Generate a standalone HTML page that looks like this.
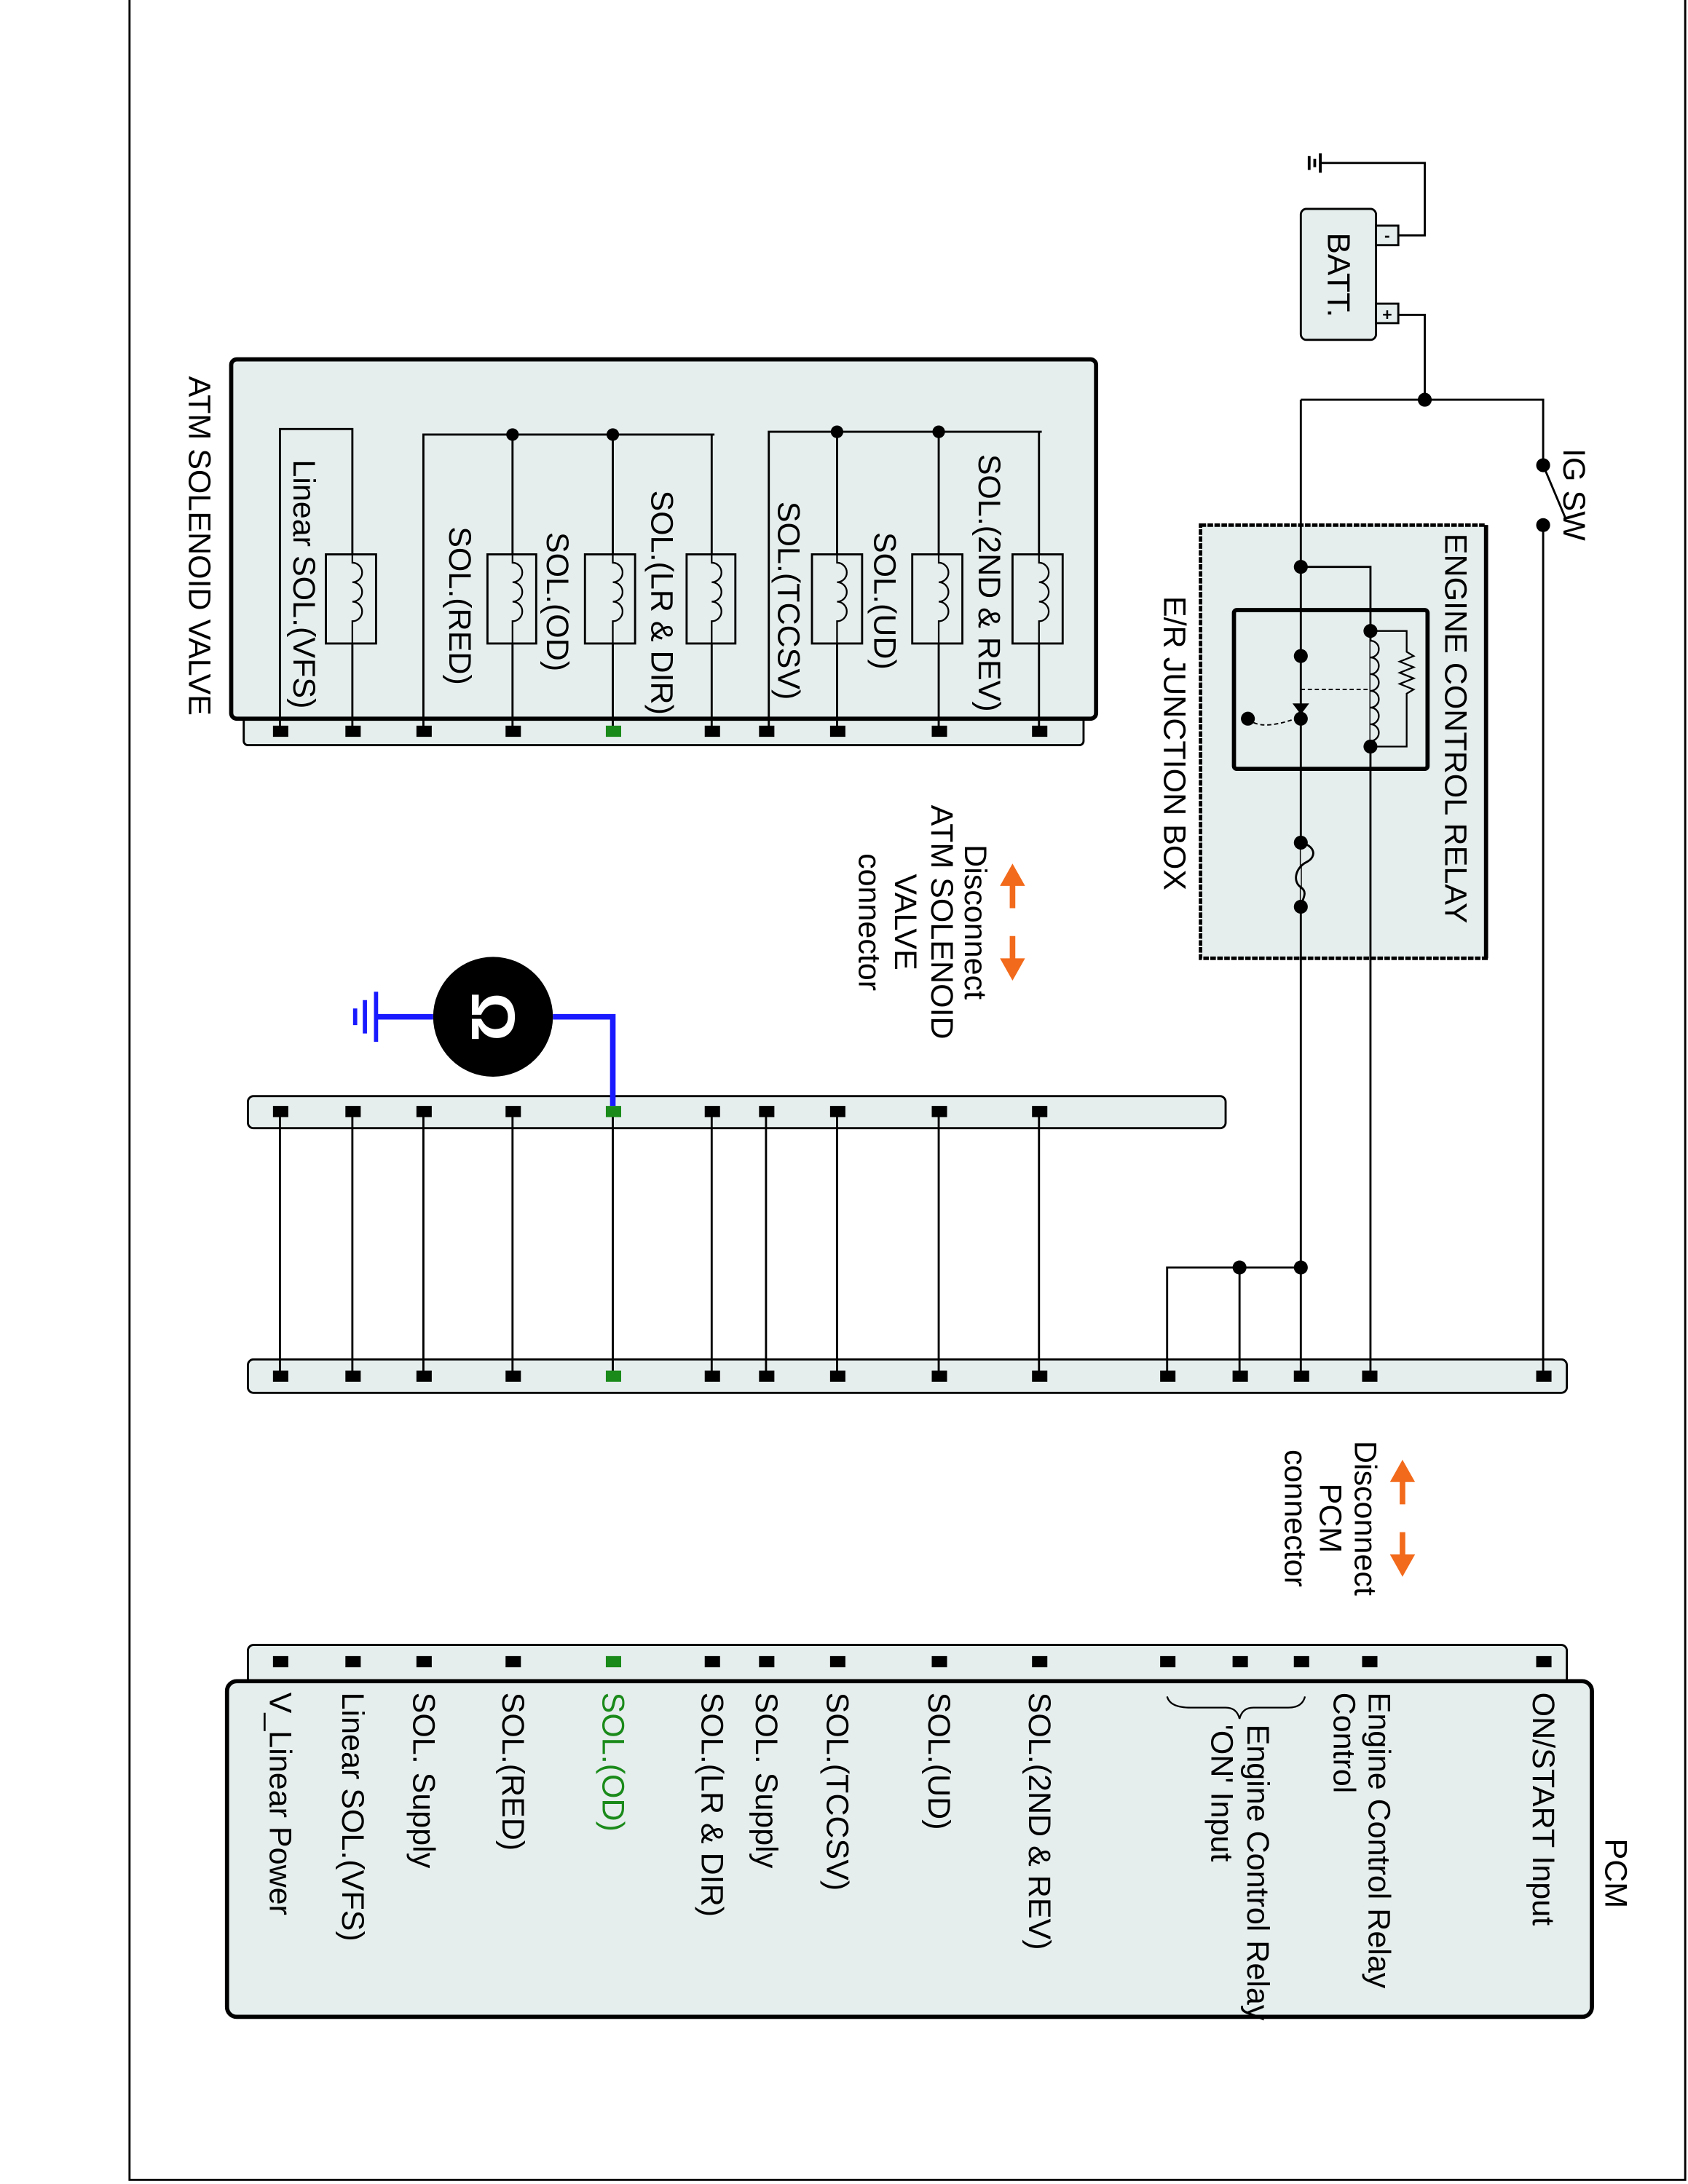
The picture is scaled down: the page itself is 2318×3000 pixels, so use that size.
<!DOCTYPE html>
<html><head><meta charset="utf-8"><style>html,body{margin:0;padding:0;background:#fff}svg{display:block}</style></head><body>
<svg width="2318" height="3000" viewBox="0 0 1212 1568" preserveAspectRatio="none" xmlns="http://www.w3.org/2000/svg" font-family="Liberation Sans, sans-serif">
<rect x="0" y="0" width="1212" height="1568" fill="#fff"/>
<path d="M93 0 V1565 H1210 V0" fill="none" stroke="#000" stroke-width="1.5"/>
<g stroke="#000" stroke-width="1.5" fill="none">
<rect x="175" y="514" width="603" height="21" rx="3" fill="#e6eded"/>
<rect x="166" y="258" width="621" height="258" rx="4" fill="#e6eded" stroke-width="3"/>
<rect x="178" y="787" width="702" height="23" rx="4" fill="#e6eded"/>
<rect x="178" y="976" width="947" height="24" rx="4" fill="#e6eded"/>
<rect x="178" y="1181" width="947" height="28" rx="4" fill="#e6eded"/>
<rect x="163" y="1207" width="980" height="241" rx="7" fill="#e6eded" stroke-width="3"/>
<rect x="862" y="377" width="205" height="311" fill="#e6eded" stroke-width="2.5" stroke-dasharray="4 1"/>
<path d="M1067 377 V688" stroke-width="3"/>
<path d="M201 525 V308 H253 V525"/>
<path d="M304 525 V312 H513 M368 312 V525 M440 312 V525 M511 312 V525"/>
<path d="M552 525 V310 H748 M601 310 V525 M674 310 V525 M746 310 V525"/>
<g fill="#e6eded">
<rect x="234" y="398" width="36" height="64"/>
<rect x="350" y="398" width="35" height="64"/><rect x="420" y="398" width="36" height="64"/><rect x="493" y="398" width="35" height="64"/>
<rect x="583" y="398" width="36" height="64"/><rect x="655" y="398" width="36" height="64"/><rect x="727" y="398" width="36" height="64"/>
</g>
<g stroke-width="1.2">
<path d="M253 398 V404 a5 5 0 0 1 0 14 a5 5 0 0 1 0 14 a5 5 0 0 1 0 14 V462"/>
<path d="M368 398 V404 a5 5 0 0 1 0 14 a5 5 0 0 1 0 14 a5 5 0 0 1 0 14 V462"/>
<path d="M440 398 V404 a5 5 0 0 1 0 14 a5 5 0 0 1 0 14 a5 5 0 0 1 0 14 V462"/>
<path d="M511 398 V404 a5 5 0 0 1 0 14 a5 5 0 0 1 0 14 a5 5 0 0 1 0 14 V462"/>
<path d="M601 398 V404 a5 5 0 0 1 0 14 a5 5 0 0 1 0 14 a5 5 0 0 1 0 14 V462"/>
<path d="M674 398 V404 a5 5 0 0 1 0 14 a5 5 0 0 1 0 14 a5 5 0 0 1 0 14 V462"/>
<path d="M746 398 V404 a5 5 0 0 1 0 14 a5 5 0 0 1 0 14 a5 5 0 0 1 0 14 V462"/>
</g>
<path d="M201 798 V988 M253 798 V988 M304 798 V988 M368 798 V988 M440 798 V988 M511 798 V988 M550 798 V988 M601 798 V988 M674 798 V988 M746 798 V988"/>
<path d="M948 117 H1023 V169 H1004 M1004 226 H1023 V287 M934 287 H1108 V334 M1108 377 V988 M1108 334 L1124 372"/>
<path d="M934 287 V988 M934 407 H984 V988 M838 988 V910 H934 M890 910 V988"/>
<path d="M940 112 V122 M944 114 V120 M948 110 V124" stroke-width="2"/>
<rect x="934" y="150" width="54" height="94" rx="4" fill="#e6eded"/>
<rect x="988" y="162" width="16" height="14" fill="#e6eded"/>
<rect x="988" y="218" width="16" height="14" fill="#e6eded"/>
<rect x="886" y="438" width="139" height="114" rx="2" stroke-width="3"/>
<path d="M984 453 H1010 V468 l5 3 -10 4 10 4 -10 4 10 4 -10 4 10 4 -5 3 V536 H984" stroke-width="1.2"/>
<path d="M984 460 a5 5 0 0 1 0 12 a5 5 0 0 1 0 12 a5 5 0 0 1 0 12 a5 5 0 0 1 0 12 a5 5 0 0 1 0 12 a5 5 0 0 1 0 12" fill="#e6eded" stroke-width="1.2"/>
<path d="M934 495 H984" stroke-dasharray="3 2" stroke-width="1"/>
<path d="M896 516 Q905 525 930 516" stroke-dasharray="3 2" stroke-width="1"/>
<path d="M934 605 c10 2 12 10 4 14 c-8 4 -10 14 -4 18 c6 4 0 10 0 14" stroke-width="1.5" fill="#e6eded"/>
</g>
<g fill="#000">
<circle cx="368" cy="312" r="4.5"/><circle cx="440" cy="312" r="4.5"/>
<circle cx="601" cy="310" r="4.5"/><circle cx="674" cy="310" r="4.5"/>
<circle cx="1023" cy="287" r="5"/><circle cx="1108" cy="334" r="5"/><circle cx="1108" cy="377" r="5"/>
<circle cx="934" cy="407" r="5"/><circle cx="984" cy="453" r="5"/><circle cx="984" cy="536" r="5"/>
<circle cx="934" cy="471" r="5"/><circle cx="934" cy="516" r="5"/><circle cx="896" cy="516" r="5"/>
<circle cx="934" cy="605" r="5"/><circle cx="934" cy="651" r="5"/>
<circle cx="890" cy="910" r="5"/><circle cx="934" cy="910" r="5"/>
<path d="M928 505 L940 505 L934 513 Z"/>
<text x="996" y="173" font-size="12" text-anchor="middle" font-weight="bold">-</text>
<text x="996" y="230" font-size="12" text-anchor="middle" font-weight="bold">+</text>
</g>
<g fill="#000">
<g id="p1">
<rect x="196" y="521" width="11" height="8"/><rect x="248" y="521" width="11" height="8"/><rect x="299" y="521" width="11" height="8"/><rect x="363" y="521" width="11" height="8"/><rect x="435" y="521" width="11" height="8" fill="#1a8a1a"/><rect x="506" y="521" width="11" height="8"/><rect x="545" y="521" width="11" height="8"/><rect x="596" y="521" width="11" height="8"/><rect x="669" y="521" width="11" height="8"/><rect x="741" y="521" width="11" height="8"/>
</g>
<use href="#p1" y="273"/><use href="#p1" y="463"/><use href="#p1" y="668"/>
<rect x="833" y="984" width="11" height="8"/><rect x="885" y="984" width="11" height="8"/><rect x="929" y="984" width="11" height="8"/><rect x="978" y="984" width="11" height="8"/><rect x="1103" y="984" width="11" height="8"/>
<rect x="833" y="1189" width="11" height="8"/><rect x="885" y="1189" width="11" height="8"/><rect x="929" y="1189" width="11" height="8"/><rect x="978" y="1189" width="11" height="8"/><rect x="1103" y="1189" width="11" height="8"/>
</g>
<g stroke="#1a1aff" stroke-width="4" fill="none">
<path d="M440 794 V730 H397 M311 730 H270"/>
<path d="M270 712 V748 M262 718 V742 M255 724 V736" stroke-width="3"/>
</g>
<circle cx="354" cy="730" r="43" fill="#000"/>
<text transform="translate(354,730) rotate(90)" font-size="44" font-weight="bold" fill="#fff" text-anchor="middle" dominant-baseline="central">Ω</text>
<g stroke="#f26a1b" stroke-width="4" fill="#f26a1b">
<path d="M727 632 V652 M727 672 V692"/>
<path d="M718 636 L727 620 L736 636 Z M718 688 L727 704 L736 688 Z" stroke="none"/>
<path d="M1007 1060 V1080 M1007 1100 V1120"/>
<path d="M998 1064 L1007 1048 L1016 1064 Z M998 1116 L1007 1132 L1016 1116 Z" stroke="none"/>
</g>
<path d="M838 1218 Q840 1226 855 1226 H880 Q888 1226 890 1234 Q892 1226 900 1226 H925 Q935 1226 937 1218" fill="none" stroke="#000" stroke-width="1.2"/>
<g font-size="22.5" fill="#000">
<text transform="translate(143,270) rotate(90)" dominant-baseline="central" font-size="22.5">ATM SOLENOID VALVE</text>
<text transform="translate(218,330) rotate(90)" dominant-baseline="central">Linear SOL.(VFS)</text>
<text transform="translate(330,378) rotate(90)" dominant-baseline="central">SOL.(RED)</text>
<text transform="translate(400,382) rotate(90)" dominant-baseline="central">SOL.(OD)</text>
<text transform="translate(475,352) rotate(90)" dominant-baseline="central">SOL.(LR &amp; DIR)</text>
<text transform="translate(566,360) rotate(90)" dominant-baseline="central">SOL.(TCCSV)</text>
<text transform="translate(635,382) rotate(90)" dominant-baseline="central">SOL.(UD)</text>
<text transform="translate(710,326) rotate(90)" dominant-baseline="central">SOL.(2ND &amp; REV)</text>
<text transform="translate(961,167) rotate(90)" dominant-baseline="central" font-size="23">BATT.</text>
<text transform="translate(1130,322) rotate(90)" dominant-baseline="central">IG SW</text>
<text transform="translate(1045,383) rotate(90)" dominant-baseline="central">ENGINE CONTROL RELAY</text>
<text transform="translate(843,428) rotate(90)" dominant-baseline="central">E/R JUNCTION BOX</text>
<g text-anchor="middle">
<text transform="translate(700,662) rotate(90)" dominant-baseline="central">Disconnect</text>
<text transform="translate(676,662) rotate(90)" dominant-baseline="central">ATM SOLENOID</text>
<text transform="translate(650,662) rotate(90)" dominant-baseline="central">VALVE</text>
<text transform="translate(624,662) rotate(90)" dominant-baseline="central">connector</text>
<text transform="translate(980,1090) rotate(90)" dominant-baseline="central">Disconnect</text>
<text transform="translate(955,1090) rotate(90)" dominant-baseline="central">PCM</text>
<text transform="translate(930,1090) rotate(90)" dominant-baseline="central">connector</text>
</g>
<text transform="translate(1160,1320) rotate(90)" dominant-baseline="central">PCM</text>
<text transform="translate(1108,1215) rotate(90)" dominant-baseline="central">ON/START Input</text>
<text transform="translate(990,1215) rotate(90)" dominant-baseline="central">Engine Control Relay</text>
<text transform="translate(965,1215) rotate(90)" dominant-baseline="central">Control</text>
<text transform="translate(903,1238) rotate(90)" dominant-baseline="central">Engine Control Relay</text>
<text transform="translate(877,1238) rotate(90)" dominant-baseline="central">'ON' Input</text>
<text transform="translate(746,1215) rotate(90)" dominant-baseline="central">SOL.(2ND &amp; REV)</text>
<text transform="translate(674,1215) rotate(90)" dominant-baseline="central">SOL.(UD)</text>
<text transform="translate(601,1215) rotate(90)" dominant-baseline="central">SOL.(TCCSV)</text>
<text transform="translate(550,1215) rotate(90)" dominant-baseline="central">SOL. Supply</text>
<text transform="translate(511,1215) rotate(90)" dominant-baseline="central">SOL.(LR &amp; DIR)</text>
<text transform="translate(440,1215) rotate(90)" dominant-baseline="central" fill="#1a8a1a">SOL.(OD)</text>
<text transform="translate(368,1215) rotate(90)" dominant-baseline="central">SOL.(RED)</text>
<text transform="translate(304,1215) rotate(90)" dominant-baseline="central">SOL. Supply</text>
<text transform="translate(253,1215) rotate(90)" dominant-baseline="central">Linear SOL.(VFS)</text>
<text transform="translate(201,1215) rotate(90)" dominant-baseline="central">V_Linear Power</text>
</g>
</svg>
</body></html>
